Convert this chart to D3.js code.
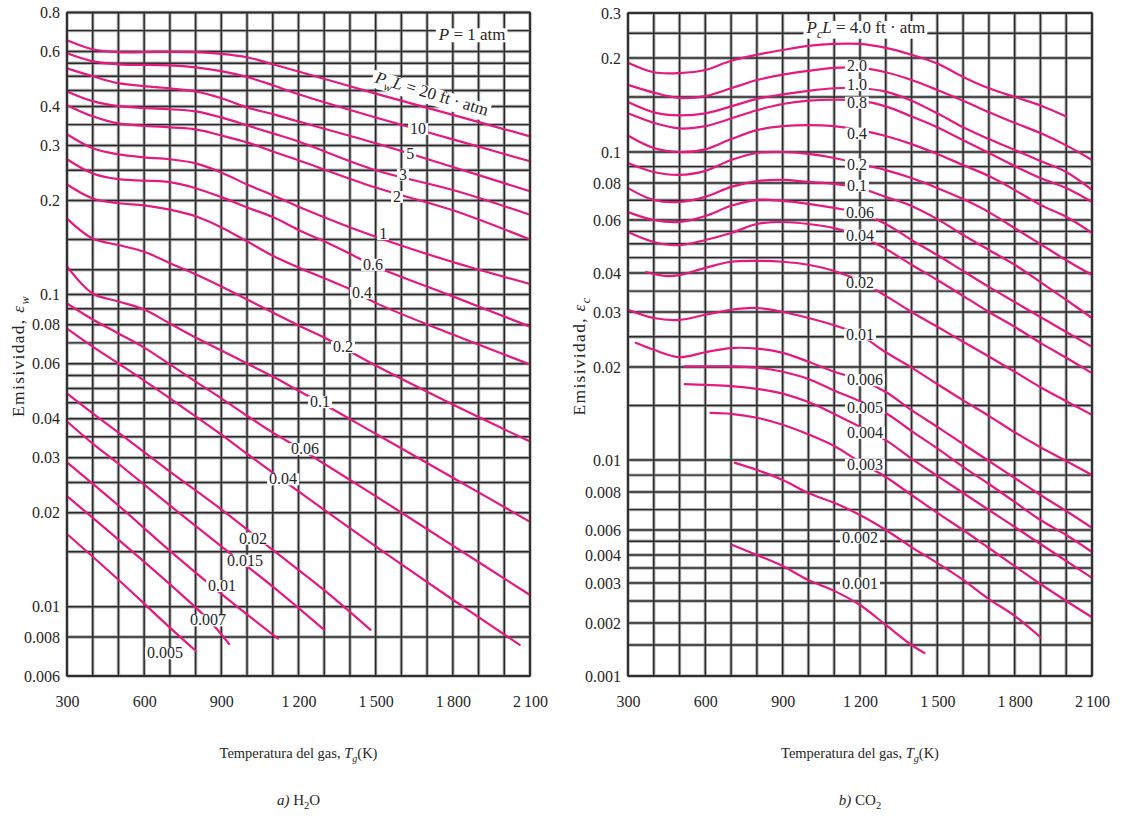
<!DOCTYPE html>
<html>
<head>
<meta charset="utf-8">
<title>Emisividad del H2O y del CO2</title>
<script src="https://d3js.org/d3.v7.min.js"></script>
<style>
  body { margin: 0; background: #fff; }
  svg { font-family: "Liberation Serif", "DejaVu Serif", serif; }
</style>
</head>
<body>
<svg width="1122" height="823"></svg>
<script>
// ---------- datos ----------
const tempTicks = [300, 600, 900, 1200, 1500, 1800, 2100];

// a) H2O : rejilla y marcas del eje
const h2oTicks = [0.8, 0.6, 0.4, 0.3, 0.2, 0.1, 0.08, 0.06, 0.04, 0.03, 0.02, 0.01, 0.008, 0.006];
const h2oGrid = [0.8, 0.7, 0.6, 0.55, 0.5, 0.45, 0.4, 0.35, 0.3, 0.25, 0.2, 0.15, 0.12, 0.1, 0.09, 0.08,
  0.07, 0.06, 0.055, 0.05, 0.045, 0.04, 0.035, 0.03, 0.025, 0.02, 0.015, 0.01, 0.008, 0.006];

// curvas H2O, [T (K), emisividad]
const h2o_20 = [[300,0.652],[400,0.610],[500,0.597],[650,0.598],[800,0.597],[900,0.59],[1000,0.575],[1100,0.546],[1200,0.518],[1500,0.44],[1800,0.376],[2100,0.321]];
const h2o_10 = [[300,0.592],[400,0.558],[500,0.546],[700,0.542],[800,0.534],[900,0.519],[1000,0.497],[1100,0.468],[1200,0.438],[1500,0.369],[1800,0.314],[2100,0.267]];
const h2o_5 = [[300,0.530],[400,0.500],[500,0.475],[700,0.457],[800,0.447],[900,0.425],[1000,0.397],[1100,0.378],[1200,0.358],[1500,0.305],[1800,0.256],[2100,0.214]];
const h2o_3 = [[300,0.447],[400,0.416],[500,0.401],[700,0.392],[800,0.386],[900,0.369],[1000,0.348],[1100,0.328],[1200,0.309],[1500,0.250],[1800,0.216],[2100,0.180]];
const h2o_2 = [[300,0.404],[400,0.372],[500,0.353],[700,0.343],[800,0.338],[900,0.323],[1000,0.307],[1100,0.287],[1200,0.269],[1500,0.220],[1800,0.186],[2100,0.150]];
const h2o_1 = [[300,0.326],[400,0.294],[500,0.281],[600,0.275],[700,0.271],[800,0.263],[900,0.246],[1000,0.225],[1100,0.208],[1200,0.191],[1500,0.153],[1800,0.127],[2100,0.108]];
const h2o_06 = [[300,0.271],[400,0.244],[500,0.234],[700,0.229],[800,0.219],[900,0.205],[1000,0.190],[1100,0.177],[1200,0.161],[1300,0.148],[1400,0.135],[1500,0.123],[1800,0.0986],[2100,0.0789]];
const h2o_04 = [[300,0.225],[400,0.203],[500,0.196],[600,0.193],[700,0.187],[800,0.178],[900,0.164],[1000,0.148],[1100,0.133],[1200,0.122],[1400,0.104],[1500,0.094],[1800,0.0744],[2100,0.0597]];
const h2o_02 = [[300,0.175],[400,0.151],[500,0.144],[600,0.137],[700,0.126],[800,0.116],[900,0.106],[1000,0.0964],[1100,0.0875],[1200,0.0796],[1300,0.0728],[1500,0.0592],[1800,0.0444],[2100,0.0338]];
const h2o_01 = [[300,0.123],[400,0.1007],[500,0.095],[600,0.0895],[700,0.0807],[800,0.0728],[900,0.0662],[1000,0.0601],[1100,0.0546],[1200,0.0492],[1300,0.0444],[1500,0.0358],[1800,0.0259],[2100,0.0187]];
const h2o_006 = [[300,0.0936],[400,0.0832],[500,0.075],[600,0.0676],[700,0.0597],[800,0.0526],[900,0.0465],[1000,0.0409],[1100,0.0361],[1200,0.0323],[1300,0.0287],[1500,0.0226],[1800,0.0157],[2100,0.0109]];
const h2o_004 = [[300,0.0778],[400,0.0681],[500,0.0601],[600,0.053],[700,0.0465],[800,0.0407],[900,0.0356],[1000,0.0309],[1100,0.0269],[1200,0.0234],[1500,0.0156],[1800,0.01053],[2060,0.00755]];
const h2o_002 = [[300,0.0482],[400,0.0416],[500,0.0361],[700,0.0271],[900,0.0205],[1100,0.0152],[1300,0.0113],[1480,0.00843]];
const h2o_0015 = [[300,0.0392],[400,0.0333],[500,0.0287],[700,0.0211],[900,0.0156],[1100,0.0116],[1300,0.00843]];
const h2o_001 = [[300,0.029],[500,0.0211],[700,0.0151],[900,0.011],[1120,0.0079]];
const h2o_0007 = [[300,0.0226],[500,0.0164],[700,0.0118],[850,0.00908],[930,0.0076]];
const h2o_0005 = [[300,0.0171],[500,0.0122],[700,0.00857],[800,0.00723]];
const h2oCurves = [h2o_20, h2o_10, h2o_5, h2o_3, h2o_2, h2o_1, h2o_06, h2o_04, h2o_02, h2o_01,
  h2o_006, h2o_004, h2o_002, h2o_0015, h2o_001, h2o_0007, h2o_0005];

// etiquetas de las curvas H2O: [texto, T, emisividad]
const h2oLabels = [["10",1665,0.340],["5",1634,0.283],["3",1606,0.243],["2",1583,0.206],["1",1529,0.157],
  ["0.6",1490,0.125],["0.4",1447,0.1015],["0.2",1373,0.0681],["0.1",1284,0.0454],["0.06",1225,0.0321],
  ["0.04",1140,0.0257],["0.02",1023,0.0166],["0.015",992,0.0141],["0.01",903,0.0117],["0.007",848,0.00908],
  ["0.005",681,0.00713]];

// b) CO2 (el eje original no es logarítmico puro abajo)
const co2Ticks = [0.3, 0.2, 0.1, 0.08, 0.06, 0.04, 0.03, 0.02, 0.01, 0.008, 0.006, 0.004, 0.003, 0.002, 0.001];
const co2Grid = [0.3, 0.25, 0.2, 0.15, 0.1, 0.09, 0.08, 0.07, 0.06, 0.055, 0.05, 0.045, 0.04, 0.035, 0.03,
  0.025, 0.02, 0.015, 0.01, 0.009, 0.008, 0.007, 0.006, 0.005, 0.004, 0.0035, 0.003, 0.0025, 0.002, 0.0015, 0.001];

const co2_40 = [[300,0.193],[400,0.180],[500,0.179],[600,0.183],[700,0.196],[800,0.206],[900,0.215],[1000,0.223],[1100,0.227],[1200,0.227],[1300,0.219],[1400,0.206],[1500,0.192],[1600,0.174],[1700,0.160],[1800,0.150],[1900,0.141],[2000,0.130]];
const co2_20 = [[300,0.164],[400,0.155],[500,0.149],[600,0.151],[700,0.160],[800,0.170],[900,0.177],[1000,0.182],[1100,0.186],[1200,0.186],[1300,0.180],[1400,0.170],[1500,0.158],[1600,0.146],[1700,0.134],[1800,0.124],[1900,0.115],[2000,0.105],[2100,0.0944]];
const co2_10 = [[300,0.1445],[400,0.134],[500,0.131],[600,0.133],[700,0.140],[800,0.148],[900,0.153],[1000,0.157],[1100,0.160],[1200,0.160],[1300,0.156],[1400,0.146],[1500,0.133],[1600,0.120],[1700,0.110],[1800,0.1015],[1900,0.0937],[2000,0.0866],[2100,0.0758]];
const co2_08 = [[300,0.133],[400,0.124],[500,0.119],[600,0.121],[700,0.128],[800,0.136],[900,0.1425],[1000,0.146],[1100,0.147],[1200,0.146],[1300,0.140],[1400,0.130],[1500,0.120],[1600,0.109],[1700,0.0993],[1800,0.0904],[1900,0.0829],[2000,0.0769],[2100,0.0690]];
const co2_04 = [[300,0.113],[400,0.103],[500,0.100],[600,0.102],[700,0.110],[800,0.1175],[900,0.121],[1000,0.122],[1100,0.121],[1200,0.1175],[1300,0.1125],[1400,0.106],[1500,0.0986],[1600,0.091],[1700,0.0841],[1800,0.0758],[1900,0.0675],[2000,0.0615],[2100,0.0543]];
const co2_02 = [[300,0.0924],[400,0.0866],[500,0.0848],[600,0.0873],[700,0.0944],[800,0.0993],[900,0.100],[1000,0.0986],[1100,0.0958],[1200,0.0917],[1300,0.0878],[1400,0.0829],[1500,0.0769],[1600,0.0706],[1700,0.0638],[1800,0.0564],[1900,0.0499],[2000,0.0441],[2100,0.0394]];
const co2_01 = [[300,0.0769],[400,0.0701],[500,0.069],[600,0.0718],[700,0.0776],[800,0.0811],[900,0.0818],[1000,0.0806],[1100,0.0795],[1200,0.0769],[1300,0.0718],[1400,0.0669],[1500,0.0604],[1600,0.0535],[1700,0.0477],[1800,0.0426],[1900,0.0374],[2000,0.0328],[2100,0.0287]];
const co2_006 = [[300,0.0638],[400,0.060],[500,0.0591],[600,0.0619],[700,0.0670],[800,0.0702],[900,0.0696],[1000,0.0680],[1100,0.0659],[1200,0.0633],[1300,0.0582],[1400,0.0515],[1500,0.0459],[1600,0.0406],[1700,0.0361],[1800,0.0323],[1900,0.0289],[2000,0.0259],[2100,0.0232]];
const co2_004 = [[300,0.0547],[400,0.0507],[500,0.0495],[600,0.0515],[700,0.0543],[800,0.0582],[900,0.0591],[1000,0.0582],[1100,0.0564],[1200,0.0531],[1300,0.0481],[1400,0.0426],[1500,0.0380],[1600,0.0338],[1700,0.030],[1800,0.0269],[1900,0.0239],[2000,0.0214],[2100,0.0191]];
const co2_002 = [[370,0.0403],[450,0.0391],[500,0.0394],[600,0.0416],[700,0.0436],[800,0.0439],[900,0.0436],[1000,0.0426],[1100,0.0406],[1200,0.0377],[1300,0.0338],[1400,0.030],[1500,0.0269],[1600,0.0241],[1700,0.0216],[1800,0.0193],[1900,0.0172],[2000,0.0155],[2100,0.0140]];
const co2_001 = [[300,0.0305],[400,0.0287],[500,0.0283],[600,0.0294],[700,0.0305],[800,0.0309],[900,0.030],[1000,0.0287],[1100,0.0272],[1200,0.0253],[1300,0.0223],[1400,0.0199],[1500,0.0176],[1600,0.0156],[1700,0.0139],[1800,0.0123],[1900,0.0110],[2000,0.00993],[2100,0.00901]];
const co2_0006 = [[330,0.0239],[400,0.0227],[500,0.0215],[600,0.0223],[700,0.0230],[800,0.0229],[900,0.0222],[1000,0.0208],[1100,0.0193],[1200,0.0182],[1300,0.0166],[1400,0.0145],[1500,0.0128],[1600,0.01127],[1700,0.00993],[1800,0.00882],[1900,0.00782],[2000,0.00693],[2100,0.0061]];
const co2_0005 = [[520,0.0201],[600,0.0201],[700,0.0201],[800,0.0199],[900,0.0193],[1000,0.0183],[1100,0.0168],[1200,0.0155],[1300,0.0142],[1400,0.0124],[1500,0.0109],[1600,0.00953],[1700,0.00846],[1800,0.00742],[1900,0.00647],[2000,0.00553],[2100,0.0042]];
const co2_0004 = [[520,0.0176],[600,0.0175],[700,0.01735],[800,0.0170],[900,0.0164],[1000,0.0154],[1100,0.0141],[1200,0.0128],[1300,0.0116],[1400,0.0101],[1500,0.00895],[1600,0.00794],[1700,0.00698],[1800,0.00614],[1900,0.00478],[2000,0.00376],[2100,0.00316]];
const co2_0003 = [[620,0.0142],[700,0.0141],[800,0.0137],[900,0.0130],[1000,0.0121],[1100,0.0111],[1200,0.00986],[1300,0.00888],[1400,0.00782],[1500,0.00683],[1600,0.0060],[1700,0.00448],[1800,0.00357],[1900,0.00297],[2000,0.0025],[2100,0.00212]];
const co2_0002 = [[715,0.0098],[800,0.00933],[900,0.0087],[1000,0.00794],[1100,0.00737],[1200,0.00672],[1300,0.0060],[1400,0.00455],[1500,0.00368],[1600,0.0031],[1700,0.00255],[1800,0.00215],[1900,0.00166]];
const co2_0001 = [[705,0.00471],[800,0.0040],[900,0.00357],[1000,0.00309],[1100,0.00277],[1200,0.0024],[1300,0.00195],[1400,0.0015],[1450,0.00135]];
const co2Curves = [co2_40, co2_20, co2_10, co2_08, co2_04, co2_02, co2_01, co2_006, co2_004, co2_002,
  co2_001, co2_0006, co2_0005, co2_0004, co2_0003, co2_0002, co2_0001];

const co2Labels = [["2.0",1188,0.189],["1.0",1188,0.1645],["0.8",1188,0.1445],["0.4",1188,0.115],["0.2",1188,0.0917],
  ["0.1",1188,0.0787],["0.06",1200,0.0638],["0.04",1200,0.0535],["0.02",1200,0.0372],["0.01",1200,0.0255],
  ["0.006",1219,0.0182],["0.005",1219,0.0148],["0.004",1219,0.0123],["0.003",1219,0.00972],
  ["0.002",1200,0.00536],["0.001",1200,0.0030]];

// ---------- dibujo ----------
const W = 1122, H = 823;
const MAGENTA = "#e5197f", INK = "#262626";
const svg = d3.select("svg");
svg.append("rect").attr("width", W).attr("height", H).attr("fill", "#fff");

const co2TickPos = [13, 58, 152, 183, 220, 273, 312, 367, 460, 492, 530, 555, 583, 623, 676];

const panels = [
  { x: d3.scaleLinear().domain([300, 2100]).range([67, 530]),
    y: d3.scaleLog().domain([0.006, 0.8]).range([676, 12.5]),
    grid: h2oGrid, ticks: h2oTicks, curves: h2oCurves, labels: h2oLabels, sub: "w",
    cap: [["a)", "i"], [" H", ""], ["2", "s"], ["O", ""]] },
  { x: d3.scaleLinear().domain([300, 2100]).range([628, 1092]),
    y: d3.scaleLog().domain(co2Ticks).range(co2TickPos),
    grid: co2Grid, ticks: co2Ticks, curves: co2Curves, labels: co2Labels, sub: "c",
    cap: [["b)", "i"], [" CO", ""], ["2", "s"]] }
];

// texto con partes en cursiva / subíndice y, si se pide, fondo blanco
function richText(parent, px, py, size, parts, opt) {
  opt = opt || {};
  const g = parent.append("g")
    .attr("transform", `translate(${px},${py}) rotate(${opt.angle || 0})`);
  const t = g.append("text")
    .attr("text-anchor", "middle")
    .attr("dy", "0.35em")
    .attr("font-size", size)
    .attr("fill", INK)
    .attr("letter-spacing", opt.spacing || 0);
  let down = false;
  parts.forEach(([s, st]) => {
    const sp = t.append("tspan").text(s);
    if (st.includes("i")) sp.attr("font-style", "italic");
    if (st.includes("s")) {
      sp.attr("font-size", size * 0.7).attr("dy", size * 0.28);
      down = true;
    } else if (down) {
      sp.attr("dy", -size * 0.28);
      down = false;
    }
  });
  if (opt.box) {
    const bb = t.node().getBBox();
    g.insert("rect", "text")
      .attr("x", bb.x - 2).attr("y", bb.y + 3)
      .attr("width", bb.width + 4).attr("height", bb.height - 5)
      .attr("fill", "#fff");
  }
  return g;
}

const line = (p) => d3.line()
  .x(d => p.x(d[0]))
  .y(d => p.y(d[1]))
  .curve(d3.curveCatmullRom.alpha(0.5));

panels.forEach((p, i) => {
  const g = svg.append("g");
  const [x0, x1] = p.x.range();
  const y0 = p.y(p.grid[0]), y1 = 676;
  const vLines = d3.range(300, 2101, 100);

  // rejilla: halo gris + trazo oscuro
  [["#b3b3b3", 3.4], ["#2a2a2a", 1.45]].forEach(([c, w]) => {
    const gg = g.append("g").attr("stroke", c).attr("stroke-width", w);
    gg.selectAll(".v").data(vLines).join("line").attr("class", "v")
      .attr("x1", d => p.x(d)).attr("x2", d => p.x(d))
      .attr("y1", y0).attr("y2", y1);
    gg.selectAll(".h").data(p.grid).join("line").attr("class", "h")
      .attr("x1", x0).attr("x2", x1)
      .attr("y1", d => p.y(d)).attr("y2", d => p.y(d));
  });

  // curvas
  g.append("g").selectAll("path").data(p.curves).join("path")
    .attr("d", d => line(p)(d))
    .attr("fill", "none")
    .attr("stroke", MAGENTA)
    .attr("stroke-width", 2.2)
    .attr("stroke-linecap", "round");

  // etiquetas de curvas
  const lg = g.append("g");
  p.labels.forEach(([s, T, e]) => richText(lg, p.x(T), p.y(e), 16, [[s, ""]], { box: true }));

  // ejes
  const ax = g.append("g").attr("transform", `translate(0,${y1})`)
    .call(d3.axisBottom(p.x).tickValues(tempTicks).tickSize(0).tickPadding(20)
      .tickFormat(d => d >= 1000 ? d3.format(",")(d).replace(",", "\u2009") : d));
  const ay = g.append("g").attr("transform", `translate(${x0},0)`)
    .call(d3.axisLeft(p.y).tickValues(p.ticks).tickSize(0).tickPadding(7)
      .tickFormat(d => String(d)));
  [ax, ay].forEach(a => {
    a.select(".domain").remove();
    a.attr("font-family", null).attr("font-size", 16);
    a.selectAll("text").attr("fill", INK);
  });

  // títulos
  const cx = (x0 + x1) / 2;
  richText(g, cx, 753, 14.5, [["Temperatura del gas, ", ""], ["T", "i"], ["g", "si"], ["(K)", ""]]);
  richText(g, cx, 800, 15, p.cap);
  richText(g, x0 - 49, 356, 17.5, [["Emisividad, ", ""], ["ε", "i"], [p.sub, "si"]],
    { angle: -90, spacing: 1.3 });
});

// rótulos de cabecera
const [pw, pc] = panels;
richText(svg, pw.x(1875), pw.y(0.681), 17, [["P", "i"], [" = 1 atm", ""]], { box: true });
richText(svg, pw.x(1719), pw.y(0.441), 17,
  [["P", "i"], ["w", "si"], ["L", "i"], [" = 20 ft \u00b7 atm", ""]], { box: true, angle: 16.7 });
richText(svg, pc.x(1223), pc.y(0.2645), 17,
  [["P", "i"], ["c", "si"], ["L", "i"], [" = 4.0 ft \u00b7 atm", ""]], { box: true });

// marco
panels.forEach(p => {
  const [x0, x1] = p.x.range();
  const y0 = p.y(p.grid[0]);
  svg.append("rect").attr("x", x0).attr("y", y0).attr("width", x1 - x0).attr("height", 676 - y0)
    .attr("fill", "none").attr("stroke", "#2a2a2a").attr("stroke-width", 1.6);
});
</script>
</body>
</html>
